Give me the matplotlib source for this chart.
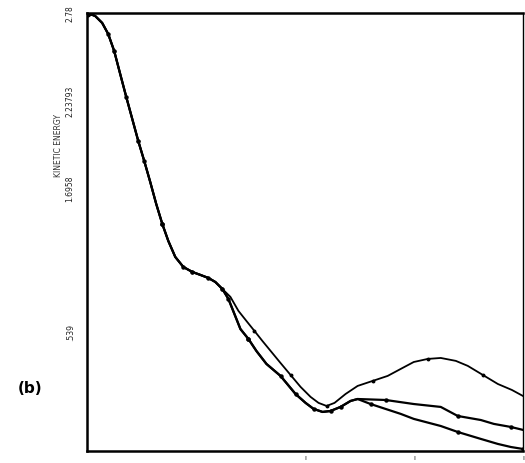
import matplotlib
matplotlib.use("Agg")
import matplotlib.pyplot as plt

# shared early portion of all three curves
x_common = [0.0, 0.074, 0.138, 0.193, 0.248, 0.303, 0.359, 0.414, 0.469, 0.524,
            0.579, 0.634, 0.690, 0.745, 0.809, 0.883, 0.966, 1.039, 1.113, 1.177, 1.241]
y_common = [2.78, 2.761, 2.718, 2.650, 2.545, 2.403, 2.260, 2.124, 1.988, 1.864,
            1.734, 1.598, 1.474, 1.369, 1.270, 1.208, 1.177, 1.159, 1.140, 1.115, 1.072]

# thick branch shared by curves B and C
x_thick = [1.297, 1.352, 1.407, 1.480, 1.554, 1.646, 1.775, 1.913, 2.005, 2.078,
           2.161, 2.234, 2.326, 2.418, 2.483]
y_thick = [1.010, 0.917, 0.824, 0.763, 0.688, 0.608, 0.534, 0.422, 0.367, 0.330,
           0.311, 0.317, 0.342, 0.379, 0.391]

# curve B tail
x_b = [2.740, 2.998, 3.246, 3.402, 3.614, 3.733, 3.890, 4.0]
y_b = [0.385, 0.360, 0.342, 0.286, 0.261, 0.237, 0.218, 0.200]

# curve C tail
x_c = [2.602, 2.878, 2.998, 3.246, 3.402, 3.614, 3.770, 3.890, 4.0]
y_c = [0.360, 0.299, 0.268, 0.224, 0.187, 0.144, 0.113, 0.094, 0.082]

# curve A after split
x_a = [1.315, 1.389, 1.462, 1.536, 1.609, 1.692, 1.775, 1.867, 1.959, 2.051,
       2.124, 2.198, 2.271, 2.372, 2.483, 2.621, 2.759, 2.878, 2.998, 3.126,
       3.246, 3.384, 3.494, 3.632, 3.770, 3.899, 4.0]
y_a = [1.023, 0.936, 0.874, 0.812, 0.750, 0.682, 0.614, 0.540, 0.466, 0.404,
       0.367, 0.348, 0.367, 0.422, 0.472, 0.503, 0.534, 0.577, 0.620, 0.639,
       0.645, 0.627, 0.596, 0.540, 0.484, 0.447, 0.410]

ytick_vals = [2.78, 2.23793, 1.69586, 0.806]
ytick_labels = ["2.78", "2.23793", "1.6958", ".539"]
xtick_vals = [2, 3, 4]
xtick_labels = ["ı", "ı", "ı"]

fig = plt.figure(figsize=(5.25, 4.64), dpi=100)
ax = fig.add_axes([0.166, 0.026, 0.830, 0.944])

xa = x_common + x_a
ya = y_common + y_a
xb = x_common + x_thick + x_b
yb = y_common + y_thick + y_b
xc = x_common + x_thick + x_c
yc = y_common + y_thick + y_c

ax.plot(xa, ya, color="black", lw=1.3, marker="o", ms=1.8, markevery=4)
ax.plot(xb, yb, color="black", lw=1.6, marker="o", ms=2.2, markevery=3)
ax.plot(xc, yc, color="black", lw=1.6, marker="o", ms=2.2, markevery=4)
ax.plot([0], [2.78], "o", color="black", ms=5)

ax.set_xlim(0, 4)
ax.set_ylim(0.0697, 2.78)

for s in ["left", "top", "bottom"]:
    ax.spines[s].set_linewidth(1.8)
ax.spines["right"].set_linewidth(1.0)

ax.set_yticks(ytick_vals)
ax.set_yticklabels(ytick_labels, rotation=90, fontsize=5.5, va="center", color="#222222")
ax.tick_params(axis="y", length=0, pad=9)
ax.set_xticks(xtick_vals)
ax.set_xticklabels(xtick_labels, fontsize=5, color="#222222")
ax.tick_params(axis="x", length=0, pad=2)

ax.set_ylabel("KINETIC ENERGY", fontsize=5.5, color="#333333", labelpad=2)
ax.yaxis.set_label_coords(-0.055, 0.70)

fig.text(0.034, 0.163, "(b)", fontsize=11, fontweight="bold", ha="left", va="center")

fig.savefig("out.png", dpi=100)
